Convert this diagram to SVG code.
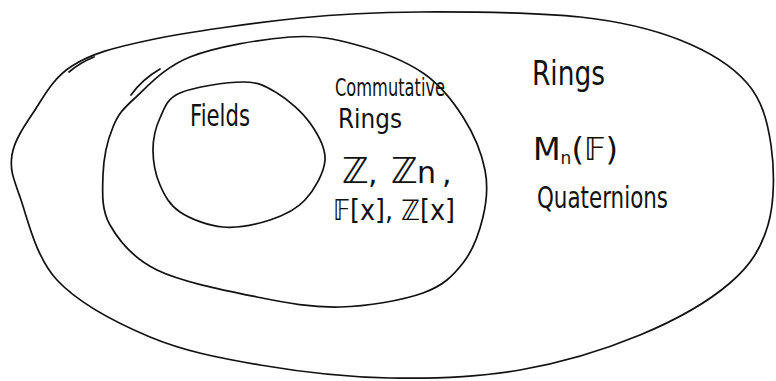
<svg xmlns="http://www.w3.org/2000/svg" width="776" height="381" viewBox="0 0 776 381">
<style>
.set{fill:none;stroke:#111;stroke-width:1.7;stroke-linecap:round;stroke-linejoin:round}
.lbl{font-family:"DejaVu Sans","Liberation Sans",sans-serif;fill:#111}
</style>
<rect width="776" height="381" fill="#fff"/>
<g id="rings">
<path class="set" d="M 72 66 C 91.5 53.8, 112 48, 150 40 C 188 32, 255 22.7, 300 18 C 345 13.3, 373.3 12.2, 420 12 C 466.7 11.8, 536.7 12.3, 580 17 C 623.3 21.7, 652.2 29, 680 40 C 707.8 51, 731.8 65.5, 747 83 C 762.2 100.5, 767.5 121.3, 771 145 C 774.5 168.7, 774.8 202, 768 225 C 761.2 248, 751.3 264.7, 730 283 C 708.7 301.3, 675 320.5, 640 335 C 605 349.5, 561.7 362.8, 520 370 C 478.3 377.2, 433.3 378.8, 390 378 C 346.7 377.2, 300 371.8, 260 365 C 220 358.2, 183.8 351.2, 150 337 C 116.2 322.8, 78.7 303.3, 57 280 C 35.3 256.7, 27.5 217.8, 20 197 C 12.5 176.2, 9.8 169, 12 155 C 14.2 141, 23 128, 33 113 C 43 98, 52.5 78.2, 72 66"/>
<path class="set" d="M 69 72 C 76 66, 84 61, 94 57"/>
<text class="lbl" x="532" y="85" font-size="34" textLength="73" lengthAdjust="spacingAndGlyphs">Rings</text>
<text class="lbl" x="533" y="160" font-size="32">M<tspan font-size="17" dy="4">n</tspan><tspan dy="-4">(𝔽)</tspan></text>
<text class="lbl" x="537" y="208" font-size="30" textLength="131" lengthAdjust="spacingAndGlyphs">Quaternions</text>
</g>
<g id="commutative-rings">
<path class="set" d="M 135 98 C 147.8 86.3, 164.2 67.2, 190 57 C 215.8 46.8, 262.2 39, 290 37 C 317.8 35, 334.8 39, 357 45 C 379.2 51, 405.3 61, 423 73 C 440.7 85, 452.7 100.8, 463 117 C 473.3 133.2, 481.7 153.3, 485 170 C 488.3 186.7, 486.7 201.5, 483 217 C 479.3 232.5, 473 250.3, 463 263 C 453 275.7, 443.5 285.7, 423 293 C 402.5 300.3, 367.7 306.3, 340 307 C 312.3 307.7, 287.5 303.2, 257 297 C 226.5 290.8, 181.5 282, 157 270 C 132.5 258, 119 240.8, 110 225 C 101 209.2, 102.5 191.3, 103 175 C 103.5 158.7, 107.7 139.8, 113 127 C 118.3 114.2, 122.2 109.7, 135 98"/>
<path class="set" d="M 131 95 C 138 85, 148 76, 160 69"/>
<text class="lbl" x="335" y="96" font-size="25" textLength="110" lengthAdjust="spacingAndGlyphs">Commutative</text>
<text class="lbl" x="338" y="128" font-size="27" textLength="64" lengthAdjust="spacingAndGlyphs">Rings</text>
<text class="lbl" x="342" y="183" font-size="36">ℤ<tspan x="368" font-size="30">,</tspan><tspan x="391">ℤ</tspan><tspan x="417" font-size="30">n</tspan><tspan x="442" font-size="30">,</tspan></text>
<text class="lbl" x="333" y="220" font-size="28" textLength="122" lengthAdjust="spacingAndGlyphs">𝔽[x], ℤ[x]</text>
</g>
<g id="fields">
<path class="set" d="M 180 93 C 193.8 87, 226.8 82, 243 82 C 259.2 82, 265.8 86.2, 277 93 C 288.2 99.8, 302 111.8, 310 123 C 318 134.2, 325.8 147.2, 325 160 C 324.2 172.8, 314.2 190, 305 200 C 295.8 210, 283.7 215.5, 270 220 C 256.3 224.5, 238 228.3, 223 227 C 208 225.7, 190.5 219, 180 212 C 169.5 205, 164.5 195.3, 160 185 C 155.5 174.7, 153 161.2, 153 150 C 153 138.8, 155.5 127.5, 160 118 C 164.5 108.5, 166.2 99, 180 93 Z"/>
<text class="lbl" x="190" y="126" font-size="30" textLength="60" lengthAdjust="spacingAndGlyphs">Fields</text>
</g>
</svg>
